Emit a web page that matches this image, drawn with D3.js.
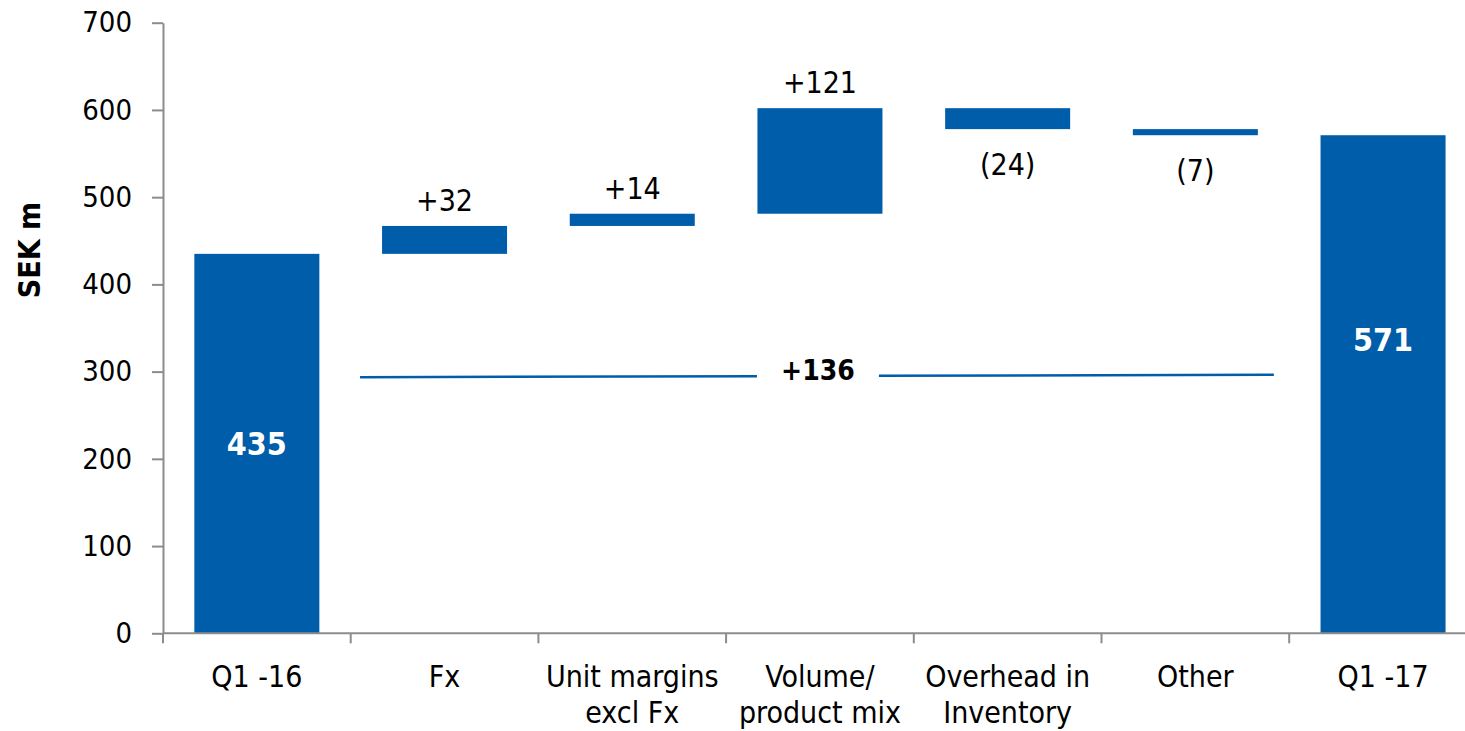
<!DOCTYPE html>
<html>
  <head>
    <title>Gross profit bridge</title>
    <style>
      body { margin: 0; background: #fff; }
      svg text { font-family: 'DejaVu Sans Condensed', 'DejaVu Sans', sans-serif; font-stretch: condensed; }
    </style>
  </head>
  <body>
    <script src="https://cdnjs.cloudflare.com/ajax/libs/d3/7.8.5/d3.min.js"></script>
    <script>
      // data
      let categories = ['Q1 -16', 'Fx', 'Unit margins\nexcl Fx', 'Volume/\nproduct mix', 'Overhead in\nInventory', 'Other', 'Q1 -17'];
      let values = [435, 32, 14, 121, -24, -7, 571];
      let kinds = ['total', 'delta', 'delta', 'delta', 'delta', 'delta', 'total'];
      let valueLabels = ['435', '+32', '+14', '+121', '(24)', '(7)', '571'];
      let yTicks = [0, 100, 200, 300, 400, 500, 600, 700];
      let bridgeLabel = '+136';
      let bridgeValues = [293.5, 296.5];

      let width = 1465, height = 731;
      let blue = '#005DAA', grey = '#8C8C8C';

      let svg = d3.select('body')
                  .append('svg')
                  .attr('width', width)
                  .attr('height', height);

      // running totals for the waterfall
      let run = 0;
      let steps = values.map((v, i) => {
        let s;
        if (kinds[i] === 'total') { s = { lo: 0, hi: v }; run = v; }
        else { s = { lo: Math.min(run, run + v), hi: Math.max(run, run + v) }; run += v; }
        return Object.assign(s, { cat: categories[i], v: v, kind: kinds[i], label: valueLabels[i] });
      });

      let x = d3.scaleBand()
                .domain(categories)
                .range([163, 163 + 7 * 187.7])
                .paddingInner(0.334)
                .paddingOuter(0.167);

      let y = d3.scaleLinear()
                .domain([0, 700])
                .range([633.3, 22.7]);

      // y axis
      let yAxis = svg.append('g')
                     .attr('transform', 'translate(163,0)')
                     .call(d3.axisLeft(y).tickValues(yTicks).tickSize(11).tickSizeOuter(0).tickPadding(20));
      yAxis.selectAll('path, line').attr('stroke', grey).attr('stroke-width', 2);
      yAxis.selectAll('text').attr('font-size', 29).attr('fill', '#000')
           .attr('font-family', "'DejaVu Sans Condensed', 'DejaVu Sans', sans-serif");

      // bars
      svg.selectAll('rect.bar')
         .data(steps)
         .enter()
           .append('rect')
           .attr('class', 'bar')
           .attr('x', d => x(d.cat))
           .attr('width', x.bandwidth())
           .attr('y', d => y(d.hi))
           .attr('height', d => y(d.lo) - y(d.hi))
           .attr('fill', blue);

      // x axis line and ticks between categories
      let x0 = x.range()[0];
      svg.append('line')
         .attr('x1', x0).attr('x2', x.range()[1])
         .attr('y1', y(0)).attr('y2', y(0))
         .attr('stroke', grey).attr('stroke-width', 2);
      svg.selectAll('line.xtick')
         .data(d3.range(categories.length + 1))
         .enter()
           .append('line')
           .attr('class', 'xtick')
           .attr('x1', i => x0 + i * x.step())
           .attr('x2', i => x0 + i * x.step())
           .attr('y1', y(0))
           .attr('y2', y(0) + 10)
           .attr('stroke', grey).attr('stroke-width', 2);

      // category labels
      let catText = svg.selectAll('text.cat')
                       .data(categories)
                       .enter()
                         .append('text')
                         .attr('class', 'cat')
                         .attr('text-anchor', 'middle')
                         .attr('font-size', 30)
                         .attr('fill', '#000');
      catText.each(function(c) {
        let lines = c.split('\n');
        let t = d3.select(this);
        lines.forEach((ln, j) => {
          t.append('tspan')
           .attr('x', x(c) + x.bandwidth() / 2)
           .attr('y', 687 + j * 36)
           .text(ln);
        });
      });

      // value labels
      svg.selectAll('text.val')
         .data(steps)
         .enter()
           .append('text')
           .attr('class', 'val')
           .attr('text-anchor', 'middle')
           .attr('x', d => x(d.cat) + x.bandwidth() / 2)
           .attr('y', (d, i) => {
             if (d.kind === 'total') {
               let mid = (y(d.lo) + y(d.hi)) / 2;
               return (i === 0 ? mid : mid - 44) + 11;
             }
             return d.v > 0 ? y(d.hi) - 15 : y(d.lo) + 46;
           })
           .attr('font-size', d => d.kind === 'total' ? 32 : 30)
           .attr('font-weight', d => d.kind === 'total' ? 'bold' : 'normal')
           .attr('fill', d => d.kind === 'total' ? '#fff' : '#000')
           .text(d => d.label);

      // bridge line with +136 in the middle
      let bx1 = x(categories[1]) - 22,
          bx2 = x(categories[5]) + x.bandwidth() + 16,
          bmid = x(categories[3]) + x.bandwidth() / 2 - 2,
          gap = 61;
      let by = d3.scaleLinear().domain([bx1, bx2]).range(bridgeValues);
      svg.append('line')
         .attr('x1', bx1).attr('y1', y(by(bx1)))
         .attr('x2', bmid - gap).attr('y2', y(by(bmid - gap)))
         .attr('stroke', blue).attr('stroke-width', 2.5);
      svg.append('line')
         .attr('x1', bmid + gap).attr('y1', y(by(bmid + gap)))
         .attr('x2', bx2).attr('y2', y(by(bx2)))
         .attr('stroke', blue).attr('stroke-width', 2.5);
      svg.append('text')
         .attr('x', bmid)
         .attr('y', y(by(bmid)) + 4)
         .attr('text-anchor', 'middle')
         .attr('font-size', 28)
         .attr('font-weight', 'bold')
         .attr('fill', '#000')
         .text(bridgeLabel);

      // y axis title
      svg.append('text')
         .attr('transform', 'translate(40,250) rotate(-90)')
         .attr('text-anchor', 'middle')
         .attr('font-size', 30)
         .attr('font-weight', 'bold')
         .attr('fill', '#000')
         .text('SEK m');
    </script>
  </body>
</html>
